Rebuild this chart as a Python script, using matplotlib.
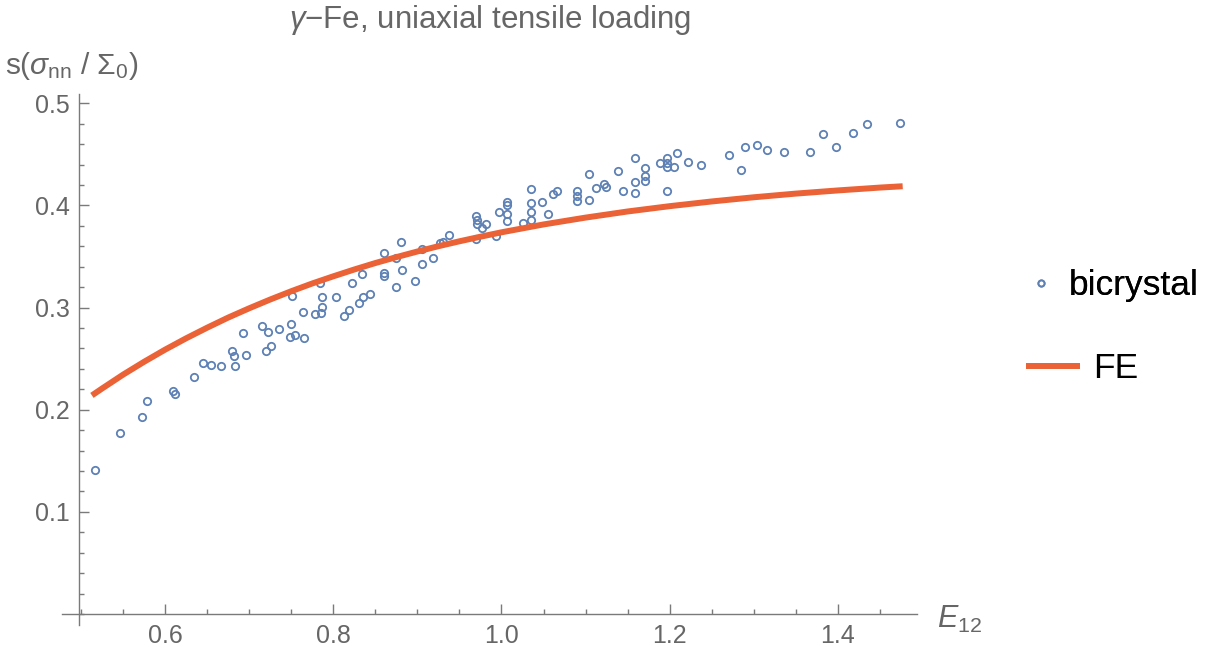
import matplotlib
matplotlib.use("Agg")
import matplotlib.pyplot as plt
from matplotlib.ticker import MultipleLocator, FixedLocator

plt.rcParams["font.family"] = ["Liberation Sans", "DejaVu Sans"]
plt.rcParams["mathtext.fontset"] = "custom"
plt.rcParams["mathtext.rm"] = "Liberation Sans"
plt.rcParams["mathtext.it"] = "Liberation Sans:italic"

# -------------------------
# Data
# -------------------------
bicrystal_x = [
    0.517, 0.546, 0.573, 0.579, 0.610, 0.612, 0.634, 0.645, 0.654, 0.666,
    0.679, 0.682, 0.683, 0.693, 0.696, 0.715, 0.720, 0.722, 0.726, 0.735,
    0.750, 0.749, 0.754, 0.765, 0.751, 0.764, 0.778, 0.785, 0.786, 0.786,
    0.784, 0.803, 0.813, 0.819, 0.822, 0.831, 0.835, 0.844, 0.834, 0.860,
    0.860, 0.860, 0.875, 0.875, 0.881, 0.882, 0.897, 0.905, 0.905, 0.919,
    0.927, 0.931, 0.937, 0.970, 0.971, 0.971, 0.970, 0.977, 0.982, 0.994,
    0.997, 1.007, 1.007, 1.007, 1.007, 1.026, 1.035, 1.035, 1.035, 1.035,
    1.048, 1.055, 1.061, 1.066, 1.090, 1.090, 1.090, 1.104, 1.104, 1.112,
    1.122, 1.124, 1.139, 1.145, 1.159, 1.159, 1.159, 1.171, 1.171, 1.171,
    1.188, 1.197, 1.197, 1.197, 1.205, 1.197, 1.209, 1.222, 1.237, 1.271,
    1.285, 1.290, 1.304, 1.316, 1.336, 1.367, 1.382, 1.398, 1.418, 1.435,
    1.474,
]
bicrystal_y = [
    0.141, 0.177, 0.193, 0.209, 0.218, 0.215, 0.232, 0.246, 0.244, 0.243,
    0.257, 0.253, 0.243, 0.275, 0.254, 0.282, 0.257, 0.276, 0.262, 0.279,
    0.284, 0.271, 0.273, 0.270, 0.311, 0.296, 0.294, 0.295, 0.301, 0.310,
    0.324, 0.310, 0.292, 0.298, 0.324, 0.304, 0.310, 0.313, 0.333, 0.353,
    0.334, 0.331, 0.349, 0.320, 0.364, 0.337, 0.326, 0.357, 0.343, 0.349,
    0.363, 0.364, 0.371, 0.390, 0.386, 0.382, 0.367, 0.378, 0.382, 0.370,
    0.394, 0.403, 0.400, 0.392, 0.385, 0.383, 0.416, 0.402, 0.394, 0.386,
    0.403, 0.392, 0.411, 0.414, 0.414, 0.409, 0.404, 0.431, 0.405, 0.417,
    0.421, 0.418, 0.434, 0.414, 0.446, 0.423, 0.412, 0.437, 0.429, 0.424,
    0.442, 0.446, 0.442, 0.438, 0.438, 0.414, 0.451, 0.443, 0.440, 0.449,
    0.435, 0.457, 0.459, 0.454, 0.452, 0.452, 0.470, 0.457, 0.471, 0.480,
    0.481,
]

fe_x = [0.513, 0.525, 0.55, 0.575, 0.60, 0.625, 0.65, 0.675, 0.70, 0.725,
        0.75, 0.775, 0.80, 0.825, 0.85, 0.875, 0.90, 0.925, 0.95, 0.975,
        1.00, 1.05, 1.10, 1.15, 1.20, 1.25, 1.30, 1.35, 1.40, 1.45, 1.477]
fe_y = [0.214, 0.2207, 0.2343, 0.2469, 0.2588, 0.2699, 0.2803, 0.2902, 0.2993,
        0.3079, 0.3160, 0.3236, 0.3306, 0.3373, 0.3436, 0.3494, 0.3549, 0.3601,
        0.3649, 0.3694, 0.3737, 0.3814, 0.3881, 0.3941, 0.3993, 0.4039, 0.4080,
        0.4116, 0.4147, 0.4175, 0.4188]

blue = "#5E81B5"
orange = "#EA6236"
axis_gray = "#7a7a7a"
text_gray = "#666666"

# -------------------------
# Plot
# -------------------------
fig = plt.figure(figsize=(12.11, 6.55), dpi=100)
ax = fig.add_axes([0.0509, 0.0455, 0.7063, 0.8108])

pts, = ax.plot(bicrystal_x, bicrystal_y, linestyle="none", marker="o", ms=5.3,
               mfc="none", mec=blue, mew=1.3, label="bicrystal")
fe_line, = ax.plot(fe_x, fe_y, color=orange, lw=4.3, solid_capstyle="butt",
                   label="FE")

ax.set_xlim(0.477, 1.494)
ax.set_ylim(-0.011, 0.509)

for s in ["top", "right"]:
    ax.spines[s].set_visible(False)
ax.spines["left"].set_position(("data", 0.498))
ax.spines["bottom"].set_position(("data", 0))
for s in ["left", "bottom"]:
    ax.spines[s].set_color(axis_gray)
    ax.spines[s].set_linewidth(1.0)

ax.xaxis.set_major_locator(FixedLocator([0.6, 0.8, 1.0, 1.2, 1.4]))
ax.xaxis.set_minor_locator(MultipleLocator(0.05))
ax.yaxis.set_major_locator(FixedLocator([0.1, 0.2, 0.3, 0.4, 0.5]))
ax.yaxis.set_minor_locator(MultipleLocator(0.02))
ax.set_xticklabels(["0.6", "0.8", "1.0", "1.2", "1.4"])
ax.set_yticklabels(["0.1", "0.2", "0.3", "0.4", "0.5"])

ax.tick_params(which="both", direction="in", color=axis_gray, width=1.0,
               labelcolor=text_gray, labelsize=18, pad=7)
ax.tick_params(which="major", length=7)
ax.tick_params(which="minor", length=3.6)

fig.text(490 / 1211, 1 - 20 / 655, r"$\gamma$" + "\u2212Fe, uniaxial tensile loading",
         ha="center", va="center", fontsize=22.5, color=text_gray)
fig.text(5 / 1211, 1 - 66 / 655, r"s($\sigma_{\rm nn}$ / $\Sigma_{\rm 0}$)",
         ha="left", va="center", fontsize=21.5, color=text_gray)
fig.text(937 / 1211, 1 - 619 / 655, r"$E_{\rm 12}$",
         ha="left", va="center", fontsize=22, color=text_gray)

# legend: two entries placed separately (Mathematica spacing differs per row)
leg1 = fig.legend([pts], ["bicrystal"], loc="center left",
                  bbox_to_anchor=(1030 / 1211, 1 - 286 / 655), frameon=False,
                  fontsize=25.5, handlelength=0.6, handletextpad=0.5,
                  borderpad=0, borderaxespad=0, markerscale=0.85)
fig.add_artist(leg1)
fig.legend([fe_line], ["FE"], loc="center left",
           bbox_to_anchor=(1026 / 1211, 1 - 369 / 655), frameon=False,
           fontsize=25.5, handlelength=1.53, handletextpad=0.37,
           borderpad=0, borderaxespad=0)

fig.savefig("out.png", dpi=100)
